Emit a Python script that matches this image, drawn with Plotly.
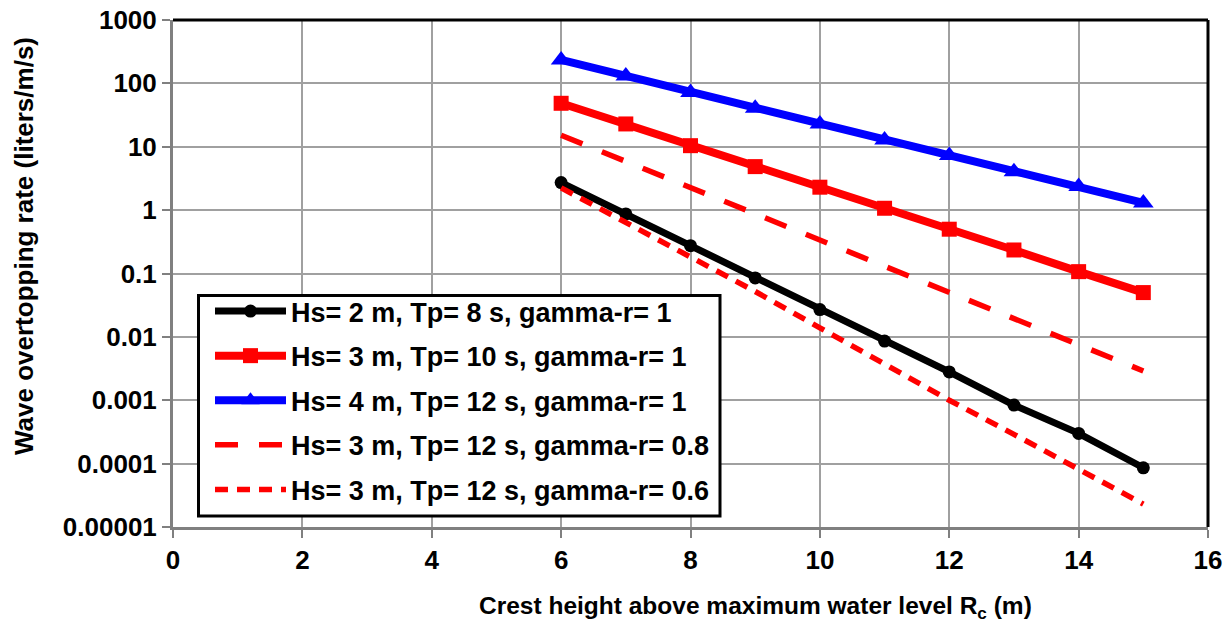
import plotly.graph_objects as go

# ---- data ----
crest_height = [6, 7, 8, 9, 10, 11, 12, 13, 14, 15]

q_hs2_tp8_g1 = [2.72, 0.87, 0.275, 0.085, 0.027, 0.0086, 0.0028, 0.00084, 0.0003, 0.000086]
q_hs3_tp10_g1 = [48.5, 22.9, 10.4, 4.86, 2.3, 1.07, 0.50, 0.235, 0.107, 0.050]
q_hs4_tp12_g1 = [234, 131, 72, 40.5, 22.9, 12.8, 7.3, 4.05, 2.35, 1.3]
q_hs3_tp12_g08 = [15.2, 5.9, 2.3, 0.89, 0.34, 0.133, 0.052, 0.020, 0.0077, 0.0029]
q_hs3_tp12_g06 = [2.24, 0.64, 0.19, 0.052, 0.0139, 0.0037, 0.0010, 0.00029, 0.000082, 0.000023]

series_names = [
    "Hs= 2 m, Tp= 8 s, gamma-r= 1",
    "Hs= 3 m, Tp= 10 s, gamma-r= 1",
    "Hs= 4 m, Tp= 12 s, gamma-r= 1",
    "Hs= 3 m, Tp= 12 s, gamma-r= 0.8",
    "Hs= 3 m, Tp= 12 s, gamma-r= 0.6",
]

y_tick_vals = [0.00001, 0.0001, 0.001, 0.01, 0.1, 1, 10, 100, 1000]
y_tick_text = ["0.00001", "0.0001", "0.001", "0.01", "0.1", "1", "10", "100", "1000"]
x_tick_vals = [0, 2, 4, 6, 8, 10, 12, 14, 16]
x_tick_text = ["0", "2", "4", "6", "8", "10", "12", "14", "16"]

FONT = "Liberation Sans, Arial, sans-serif"

fig = go.Figure()

fig.add_trace(go.Scatter(
    x=crest_height, y=q_hs2_tp8_g1, name=series_names[0], mode="lines+markers",
    line=dict(color="#000000", width=7),
    marker=dict(symbol="circle", size=13, color="#000000"),
    legendgroup="a"))
fig.add_trace(go.Scatter(
    x=crest_height, y=q_hs3_tp10_g1, name=series_names[1], mode="lines+markers",
    line=dict(color="#ff0000", width=8),
    marker=dict(symbol="square", size=15, color="#ff0000"),
    legendgroup="b"))
fig.add_trace(go.Scatter(
    x=crest_height, y=q_hs4_tp12_g1, name=series_names[2], mode="lines+markers",
    line=dict(color="#0000ff", width=8),
    marker=dict(symbol="triangle-up", size=18, color="#0000ff"),
    legendgroup="c"))
fig.add_trace(go.Scatter(
    x=crest_height, y=q_hs3_tp12_g08, name=series_names[3], mode="lines",
    line=dict(color="#ff0000", width=5.5, dash="23px,21px"),
    legendgroup="d"))
fig.add_trace(go.Scatter(
    x=crest_height, y=q_hs3_tp12_g06, name=series_names[4], mode="lines",
    line=dict(color="#ff0000", width=5.5, dash="13px,9px"),
    legendgroup="e"))

L, R, T, B = 173, 20, 20, 98
W, H = 1228, 625
pw, ph = W - L - R, H - T - B

def px_x(p):
    return (p - L) / pw

def px_y(p):
    return (H - B - p) / ph

fig.update_layout(
    width=W, height=H,
    margin=dict(l=L, r=R, t=T, b=B, autoexpand=False),
    paper_bgcolor="white", plot_bgcolor="white",
    font=dict(family=FONT, size=26, color="black"),
    showlegend=True,
    legend=dict(
        x=px_x(210), y=px_y(287), xanchor="left", yanchor="top",
        bgcolor="rgba(0,0,0,0)", borderwidth=0,
        font=dict(family=FONT, size=27, color="black", weight="bold"),
        itemwidth=71, tracegroupgap=6.5,
    ),
    xaxis=dict(
        range=[0, 16], tickvals=x_tick_vals, ticktext=x_tick_text,
        showgrid=True, gridcolor="#a0a0a0", gridwidth=1.5,
        showline=True, linecolor="#808080", linewidth=3,
        ticks="outside", ticklen=8, tickcolor="#808080", tickwidth=1.5,
        tickfont=dict(family=FONT, size=26, color="black", weight="bold"),
        zeroline=False, automargin=False,
    ),
    yaxis=dict(
        type="log", range=[-5, 3], tickvals=y_tick_vals, ticktext=y_tick_text,
        showgrid=True, gridcolor="#a0a0a0", gridwidth=1.5,
        showline=True, linecolor="#808080", linewidth=3,
        ticks="outside", ticklen=8, tickcolor="#808080", tickwidth=1.5,
        tickfont=dict(family=FONT, size=26, color="black", weight="bold"),
        zeroline=False, automargin=False,
    ),
    shapes=[
        dict(type="line", xref="paper", yref="paper", x0=0, x1=1, y0=1, y1=1,
             line=dict(color="black", width=3), layer="above"),
        dict(type="line", xref="paper", yref="paper", x0=1, x1=1, y0=0, y1=1,
             line=dict(color="black", width=3), layer="above"),
        dict(type="rect", xref="paper", yref="paper",
             x0=px_x(198.5), x1=px_x(720), y0=px_y(295.5), y1=px_y(516),
             line=dict(color="black", width=3), fillcolor="white", layer="above"),
    ],
    annotations=[
        dict(text="<b>Crest height above maximum water level R<sub>c</sub> (m)</b>",
             xref="paper", yref="paper", x=px_x(755), y=px_y(607),
             xanchor="center", yanchor="middle", showarrow=False,
             font=dict(family=FONT, size=24.5, color="black")),
        dict(text="<b>Wave overtopping rate (liters/m/s)</b>",
             xref="paper", yref="paper", x=px_x(24), y=px_y(246),
             xanchor="center", yanchor="middle", showarrow=False, textangle=-90,
             font=dict(family=FONT, size=26, color="black")),
    ],
)

fig.write_html("out.html")
